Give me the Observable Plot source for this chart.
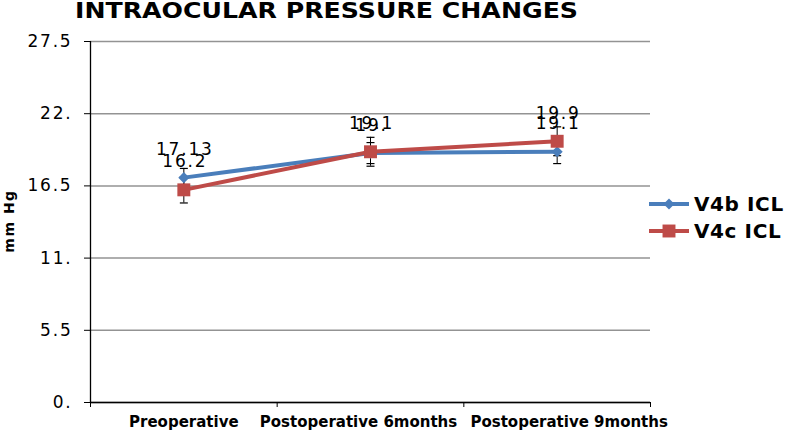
<!DOCTYPE html>
<html><head><meta charset="utf-8">
<script src="https://cdn.jsdelivr.net/npm/d3@7"></script>
<script src="https://cdn.jsdelivr.net/npm/@observablehq/plot@0.6"></script>
<style>
body{margin:0;background:#fff;}
#wrap{position:relative;width:787px;height:432px;font-family:"DejaVu Sans",Verdana,sans-serif;overflow:hidden;}
#chart{position:absolute;left:0;top:0;}
#title{position:absolute;left:75px;top:0px;font-weight:bold;font-size:21px;line-height:22px;white-space:nowrap;transform-origin:0 0;transform:scaleX(1.2);}
#ylab{position:absolute;left:9px;top:221px;transform:translate(-50%,-50%) rotate(-90deg);font-weight:bold;font-size:14px;letter-spacing:1.5px;white-space:nowrap;}
#legend{position:absolute;left:649px;top:190px;}
.item{display:flex;align-items:center;height:27px;font-weight:bold;font-size:20px;letter-spacing:0.6px;white-space:nowrap;}
.item svg{margin-right:5px;}
#chart g[aria-label="y-axis tick label"] text{letter-spacing:1.8px;}
#chart g[aria-label="text"] text{letter-spacing:1.8px;}
</style></head><body>
<div id="wrap">
  <div id="chart"></div>
  <div id="title">INTRAOCULAR PRESSURE CHANGES</div>
  <div id="ylab">mm Hg</div>
  <div id="legend"></div>
</div>
<script>
const categories = ["Preoperative", "Postoperative 6months", "Postoperative 9months"];
const seriesNames = ["V4b ICL", "V4c ICL"];
const v4bValues = [17.13, 19.0, 19.1];
const v4cValues = [16.2, 19.1, 19.9];
const v4bErrors = [0.7, 0.8, 0.9];
const v4cErrors = [1.0, 1.1, 1.1];
const v4bLabels = ["17.13", "19.", "19.1"];
const v4cLabels = ["16.2", "19.1", "19.9"];
const yTicks = [0, 5.5, 11, 16.5, 22, 27.5];
const yTickLabels = ["0.", "5.5", "11.", "16.5", "22.", "27.5"];

const colors = ["#4a7ebb", "#be4b48"];
const symbols = ["diamond2", "square"];
const symbolR = [5, 7.3];
const catLabelShift = [0, -12, 12];

const seriesValues = [v4bValues, v4cValues];
const seriesErrors = [v4bErrors, v4cErrors];
const seriesLabels = [v4bLabels, v4cLabels];

const rows = [];
seriesNames.forEach((s, si) => {
  categories.forEach((c, i) => {
    rows.push({series: s, pos: i + 0.5, cat: c, value: seriesValues[si][i], err: seriesErrors[si][i], label: seriesLabels[si][i]});
  });
});

const capSymbol = {
  draw(ctx, size) {
    const r = Math.sqrt(size / Math.PI);
    ctx.moveTo(-r, 0); ctx.lineTo(r, 0);
  }
};

const catTicks = categories.map((c, i) => i + 0.5);
const boundTicks = d3.range(categories.length + 1);

const marks = [
  Plot.gridY({ticks: yTicks, stroke: "#939393", strokeOpacity: 1, strokeWidth: 1.5}),
  Plot.axisY({ticks: yTicks, tickFormat: d => yTickLabels[yTicks.indexOf(d)], tickSize: 6, tickPadding: 12, fontSize: 17, label: null}),
  Plot.axisX({ticks: boundTicks, tickFormat: () => "", tickSize: 5, label: null}),
  ...categories.map((c, i) => Plot.axisX({ticks: [catTicks[i]], tickFormat: () => c, tickSize: 0, tickPadding: 14, dx: catLabelShift[i], fontSize: 15, fontWeight: "bold", label: null})),
  Plot.ruleX([0], {stroke: "black", strokeWidth: 1.3}),
  Plot.ruleY([0], {stroke: "black", strokeWidth: 1.3}),
  Plot.ruleX(rows, {x: "pos", y1: d => d.value - d.err, y2: d => d.value + d.err, stroke: "black", strokeWidth: 1}),
  Plot.dot(rows, {x: "pos", y: d => d.value + d.err, symbol: capSymbol, r: 4, stroke: "black", strokeWidth: 1.2, fill: "none"}),
  Plot.dot(rows, {x: "pos", y: d => d.value - d.err, symbol: capSymbol, r: 4, stroke: "black", strokeWidth: 1.2, fill: "none"})
];
seriesNames.forEach((s, si) => {
  const data = rows.filter(d => d.series === s);
  marks.push(Plot.line(data, {x: "pos", y: "value", stroke: colors[si], strokeWidth: 4}));
  marks.push(Plot.dot(data, {x: "pos", y: "value", symbol: symbols[si], r: symbolR[si], fill: colors[si], stroke: "none"}));
});
marks.push(Plot.text(rows, {x: "pos", y: "value", text: "label", dy: -28, dx: 1, fontSize: 17, fill: "black"}));

const chart = Plot.plot({
  width: 787, height: 432,
  marginLeft: 90, marginRight: 137, marginTop: 41, marginBottom: 30,
  style: {fontFamily: "'DejaVu Sans', Verdana, sans-serif", background: "white", color: "black"},
  x: {type: "linear", domain: [0, categories.length], axis: null},
  y: {domain: [0, 27.5], axis: null},
  marks
});
document.getElementById("chart").appendChild(chart);

const legend = document.getElementById("legend");
seriesNames.forEach((s, si) => {
  const item = document.createElement("div");
  item.className = "item";
  const svg = d3.create("svg").attr("width", 40).attr("height", 20);
  svg.append("line").attr("x1", 0).attr("x2", 40).attr("y1", 10).attr("y2", 10).attr("stroke", colors[si]).attr("stroke-width", 4);
  const sym = si === 0 ? d3.symbolDiamond2 : d3.symbolSquare;
  svg.append("path").attr("transform", "translate(20,10)").attr("d", d3.symbol(sym, symbolR[si] * symbolR[si] * Math.PI)()).attr("fill", colors[si]);
  item.appendChild(svg.node());
  const t = document.createElement("span");
  t.textContent = s;
  item.appendChild(t);
  legend.appendChild(item);
});
</script>
</body></html>
